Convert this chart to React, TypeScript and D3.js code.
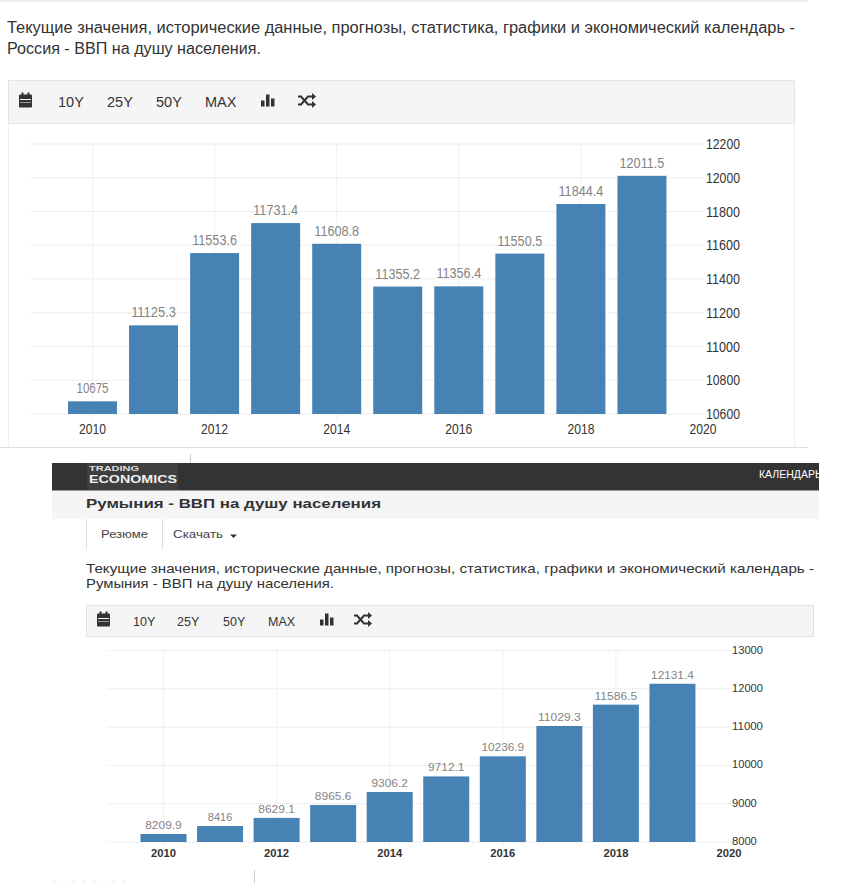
import React from "react";
import * as d3 from "d3";

const years = [2010, 2011, 2012, 2013, 2014, 2015, 2016, 2017, 2018, 2019];
const xTicks = [2010, 2012, 2014, 2016, 2018, 2020];

const russiaValues = [10675, 11125.3, 11553.6, 11731.4, 11608.8, 11355.2, 11356.4, 11550.5, 11844.4, 12011.5];
const russiaTicks = [10600, 10800, 11000, 11200, 11400, 11600, 11800, 12000, 12200];

const romaniaValues = [8209.9, 8416, 8629.1, 8965.6, 9306.2, 9712.1, 10236.9, 11029.3, 11586.5, 12131.4];
const romaniaTicks = [8000, 9000, 10000, 11000, 12000, 13000];

const rangeButtons = ["10Y", "25Y", "50Y", "MAX"];
const introText = "Текущие значения, исторические данные, прогнозы, статистика, графики и экономический календарь -";

const FONT = "'Liberation Sans', Arial, sans-serif";

interface BarPanelProps {
  values: number[];
  ticks: number[];
  x0: number; // pixel of 2010
  x1: number; // pixel of 2020
  yTop: number;
  yBottom: number;
  gridLeft: number;
  gridRight: number;
  barWidth: number;
  fontSize: number;
  yearWeight?: number;
  tickX: number;
  tickDy: number;
  yearDy: number;
  labelDy: number;
  yearLen: number;
  tickLen: number;
  labelCharLen: number;
}

const BarPanel: React.FC<BarPanelProps> = ({
  values, ticks, x0, x1, yTop, yBottom, gridLeft, gridRight, barWidth, fontSize,
  yearWeight = 400, tickX, tickDy, yearDy, labelDy, yearLen, tickLen, labelCharLen,
}) => {
  const x = d3.scaleLinear().domain([2010, 2020]).range([x0, x1]);
  const y = d3.scaleLinear().domain([ticks[0], ticks[ticks.length - 1]]).range([yBottom, yTop]);

  return (
    <g fontFamily={FONT}>
      {xTicks.slice(0, -1).map((t) => (
        <line key={t} x1={x(t)} x2={x(t)} y1={yTop} y2={yBottom + 5} stroke="#f1f1f1" />
      ))}
      {ticks.map((t) => (
        <line key={t} x1={gridLeft} x2={gridRight} y1={y(t)} y2={y(t)} stroke="#dcdcdc" strokeDasharray="1 1" />
      ))}
      {years.map((yr, i) => (
        <g key={yr}>
          <rect
            x={x(yr) - barWidth / 2}
            y={y(values[i])}
            width={barWidth}
            height={yBottom - y(values[i])}
            fill="#4682b4"
          />
          <text
            x={x(yr)}
            y={y(values[i]) - labelDy}
            textAnchor="middle"
            fontSize={fontSize}
            fill="#848484"
            textLength={String(values[i]).length * labelCharLen}
            lengthAdjust="spacingAndGlyphs"
          >
            {values[i]}
          </text>
        </g>
      ))}
      {ticks.map((t) => (
        <text key={t} x={tickX} y={y(t) + tickDy} fontSize={fontSize} fill="#333333"
          textLength={String(t).length * tickLen} lengthAdjust="spacingAndGlyphs">
          {t}
        </text>
      ))}
      {xTicks.map((t) => (
        <text key={t} x={x(t)} y={yBottom + yearDy} textAnchor="middle" fontSize={fontSize} fill="#333333"
          fontWeight={yearWeight} textLength={yearLen} lengthAdjust="spacingAndGlyphs">
          {t}
        </text>
      ))}
    </g>
  );
};

interface ToolbarProps {
  x: number;
  y: number;
  width: number;
  height: number;
  iconX: number;
  buttonX: number[];
  barsX: number;
  shuffleX: number;
  fontSize: number;
}

const Toolbar: React.FC<ToolbarProps> = ({ x, y, width, height, iconX, buttonX, barsX, shuffleX, fontSize }) => {
  const cy = y + height / 2;
  return (
    <g fontFamily={FONT}>
      <rect x={x + 0.5} y={y + 0.5} width={width} height={height} fill="#f5f5f5" stroke="#e3e3e3" />
      {/* calendar icon */}
      <g fill="#333333">
        <rect x={iconX} y={cy - 7} width={13} height={13} rx={1} />
        <rect x={iconX + 2.5} y={cy - 9} width={2} height={3} />
        <rect x={iconX + 8.5} y={cy - 9} width={2} height={3} />
      </g>
      <line x1={iconX + 1} x2={iconX + 12} y1={cy - 2} y2={cy - 2} stroke="#f5f5f5" />
      <line x1={iconX + 1} x2={iconX + 12} y1={cy + 1} y2={cy + 1} stroke="#999" />
      {rangeButtons.map((b, i) => (
        <text key={b} x={buttonX[i]} y={cy + 5} fontSize={fontSize} fill="#333333">{b}</text>
      ))}
      {/* bar chart icon */}
      <g fill="#333333">
        <rect x={barsX} y={cy - 1} width={3.5} height={6} />
        <rect x={barsX + 5} y={cy - 7} width={3.5} height={12} />
        <rect x={barsX + 10} y={cy - 3} width={3.5} height={8} />
      </g>
      {/* shuffle icon */}
      <g fill="none" stroke="#333333" strokeWidth={2}>
        <path d={`M${shuffleX} ${cy + 3}h3l7 -8h4`} />
        <path d={`M${shuffleX} ${cy - 5}h3l7 8h4`} />
      </g>
      <g fill="#333333">
        <path d={`M${shuffleX + 14} ${cy - 8.5}l4 3.5l-4 3.5z`} />
        <path d={`M${shuffleX + 14} ${cy - 0.5}l4 3.5l-4 3.5z`} />
      </g>
    </g>
  );
};

export default function App() {
  return (
    <svg
      width={845}
      height={883}
      viewBox="0 0 845 883"
      style={{ position: "absolute", left: 0, top: 0, background: "#ffffff" }}
    >
      <defs>
        <clipPath id="headerClip">
          <rect x={52} y={463} width={767} height={56} />
        </clipPath>
      </defs>

      {/* upper screenshot: Russia */}
      <g fontFamily={FONT} fill="#333333">
        <line x1={0} x2={808} y1={1} y2={1} stroke="#dddddd" />
        <text x={7} y={33} fontSize={16} textLength={788} lengthAdjust="spacingAndGlyphs">{introText}</text>
        <text x={7} y={54} fontSize={16} textLength={254} lengthAdjust="spacingAndGlyphs">Россия - ВВП на душу населения.</text>
      </g>
      <Toolbar x={8} y={80} width={786} height={43} iconX={19} buttonX={[58, 107, 156, 205]} barsX={261} shuffleX={298} fontSize={14.5} />
      <line x1={8.5} x2={8.5} y1={123} y2={447} stroke="#f0f0f0" />
      <line x1={794.5} x2={794.5} y1={123} y2={447} stroke="#f0f0f0" />
      <line x1={0} x2={808} y1={447.5} y2={447.5} stroke="#dddddd" />
      <BarPanel
        values={russiaValues}
        ticks={russiaTicks}
        x0={92.5}
        x1={703}
        yTop={144}
        yBottom={414}
        gridLeft={30}
        gridRight={704}
        barWidth={49}
        fontSize={14}
        tickX={706}
        tickDy={5}
        yearDy={20}
        labelDy={8}
        yearLen={27}
        tickLen={6.8}
        labelCharLen={6.4}
      />

      {/* lower screenshot: Romania */}
      <line x1={190.5} x2={190.5} y1={454} y2={463} stroke="#cccccc" />
      <g clipPath="url(#headerClip)" fontFamily={FONT}>
        <rect x={52} y={463} width={767} height={27} fill="#333333" />
        <rect x={52} y={490} width={767} height={1.5} fill="#999999" />
        <rect x={52} y={491} width={767} height={28} fill="#f5f5f5" />
        <rect x={87} y={463} width={91} height={27} fill="#3f3f3f" />
        <text x={89} y={471} fontSize={8} fontWeight={700} fill="#dddddd" textLength={50} lengthAdjust="spacingAndGlyphs">TRADING</text>
        <text x={89} y={483} fontSize={10.5} fontWeight={700} fill="#eeeeee" textLength={88} lengthAdjust="spacingAndGlyphs">ECONOMICS</text>
        <text x={759} y={478} fontSize={10.5} fill="#ffffff">КАЛЕНДАРЬ</text>
        <text x={86} y={508} fontSize={13.5} fontWeight={700} fill="#333333" textLength={295} lengthAdjust="spacingAndGlyphs">Румыния - ВВП на душу населения</text>
      </g>
      <g fontFamily={FONT} fill="#444444">
        <line x1={86.5} x2={86.5} y1={519} y2={549} stroke="#dddddd" />
        <line x1={162.5} x2={162.5} y1={519} y2={549} stroke="#dddddd" />
        <text x={101} y={538} fontSize={11} textLength={47} lengthAdjust="spacingAndGlyphs">Резюме</text>
        <text x={173} y={538} fontSize={11} textLength={50} lengthAdjust="spacingAndGlyphs">Скачать</text>
        <path d="M230 534.5h7l-3.5 3.5z" fill="#333333" />
        <text x={86} y={573} fontSize={13} fill="#333333" textLength={728} lengthAdjust="spacingAndGlyphs">{introText}</text>
        <text x={86} y={588} fontSize={13} fill="#333333" textLength={248} lengthAdjust="spacingAndGlyphs">Румыния - ВВП на душу населения.</text>
      </g>
      <Toolbar x={86} y={605} width={727} height={31} iconX={97} buttonX={[133, 177, 223, 268]} barsX={320} shuffleX={354} fontSize={12.5} />
      <BarPanel
        values={romaniaValues}
        ticks={romaniaTicks}
        x0={163.5}
        x1={729}
        yTop={650.5}
        yBottom={842}
        gridLeft={108}
        gridRight={731}
        barWidth={46}
        fontSize={11.5}
        yearWeight={700}
        tickX={732}
        tickDy={3}
        yearDy={15}
        labelDy={5}
        yearLen={25}
        tickLen={6.2}
        labelCharLen={6.1}
      />
      <line x1={254.5} x2={254.5} y1={870} y2={883} stroke="#cccccc" />
      <line x1={52} x2={128} y1={881.5} y2={881.5} stroke="#eeeeee" strokeDasharray="4 6" />
    </svg>
  );
}
